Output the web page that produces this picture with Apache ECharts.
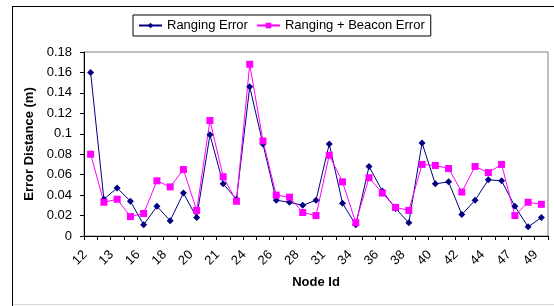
<!DOCTYPE html>
<html>
<head>
<meta charset="utf-8">
<script src="https://cdn.jsdelivr.net/npm/echarts@6/dist/echarts.min.js"></script>
<style>
html, body { margin: 0; padding: 0; background: #fff; }
#chart { width: 554px; height: 306px; }
</style>
</head>
<body>
<div id="chart"></div>
<script>
// node ids along the x axis (only every other one is labelled in the picture)
var nodeIds = ['12', '10', '13', '15', '16', '17', '18', '19', '20', '11', '21', '23',
    '24', '25', '26', '27', '28', '29', '31', '32', '34', '35', '36', '37', '38', '39',
    '40', '41', '42', '43', '44', '45', '47', '48', '49'];

var rangingError = [0.160, 0.036, 0.047, 0.034, 0.011, 0.029, 0.015, 0.042, 0.018, 0.099,
    0.051, 0.036, 0.146, 0.090, 0.035, 0.033, 0.030, 0.035, 0.090, 0.032, 0.011, 0.068,
    0.044, 0.027, 0.013, 0.091, 0.051, 0.053, 0.021, 0.035, 0.055, 0.054, 0.029, 0.009, 0.018];

var beaconError = [0.080, 0.033, 0.036, 0.019, 0.022, 0.054, 0.048, 0.065, 0.025, 0.113,
    0.058, 0.034, 0.168, 0.093, 0.040, 0.038, 0.023, 0.020, 0.079, 0.053, 0.013, 0.057,
    0.042, 0.028, 0.025, 0.070, 0.069, 0.066, 0.043, 0.068, 0.062, 0.070, 0.020, 0.033, 0.031];

var seriesNames = ['Ranging Error', 'Ranging + Beacon Error'];

var font = "'Liberation Sans', Arial, sans-serif";

var chart = echarts.init(document.getElementById('chart'), null, {renderer: 'canvas'});

var option = {
    animation: false,
    backgroundColor: '#fff',
    textStyle: {fontFamily: font},
    graphic: [
        // outer chart frame
        {type: 'line', shape: {x1: 12.5, y1: 6, x2: 12.5, y2: 306}, style: {stroke: '#000', lineWidth: 1}},
        {type: 'line', shape: {x1: 12, y1: 6.5, x2: 554, y2: 6.5}, style: {stroke: '#000', lineWidth: 1}},
        {type: 'line', shape: {x1: 13, y1: 304.5, x2: 554, y2: 304.5}, style: {stroke: '#d8d8d8', lineWidth: 1}}
    ],
    legend: {
        data: seriesNames,
        left: 133,
        top: 15,
        orient: 'horizontal',
        padding: [4, 6, 4, 5],
        itemGap: 8,
        itemWidth: 23,
        itemHeight: 7,
        borderColor: '#000',
        borderWidth: 1,
        textStyle: {fontFamily: font, fontSize: 13, color: '#000'}
    },
    grid: {
        left: 84,
        right: 6,
        top: 52,
        bottom: 70,
        show: true,
        borderColor: '#808080',
        borderWidth: 1
    },
    xAxis: {
        type: 'category',
        data: nodeIds,
        boundaryGap: true,
        name: 'Node Id',
        nameLocation: 'middle',
        nameGap: 40,
        nameTextStyle: {fontFamily: font, fontSize: 13, fontWeight: 'bold', color: '#000'},
        axisLine: {lineStyle: {color: '#000', width: 1}},
        axisTick: {show: true, interval: 0, inside: false, length: 4, lineStyle: {color: '#000'}},
        axisLabel: {
            interval: 1,
            rotate: 45,
            margin: 11,
            padding: [0, 8, 0, 0],
            fontFamily: font,
            fontSize: 13,
            color: '#000'
        },
        splitLine: {show: false}
    },
    yAxis: {
        type: 'value',
        min: 0,
        max: 0.18,
        interval: 0.02,
        name: 'Error Distance (m)',
        nameLocation: 'middle',
        nameGap: 43,
        nameTextStyle: {fontFamily: font, fontSize: 13, fontWeight: 'bold', color: '#000'},
        axisLine: {show: true, lineStyle: {color: '#000', width: 1}},
        axisTick: {show: true, inside: false, length: 4, lineStyle: {color: '#000'}},
        axisLabel: {margin: 12, fontFamily: font, fontSize: 13, color: '#000'},
        splitLine: {show: false}
    },
    series: [
        {
            name: seriesNames[0],
            type: 'line',
            data: rangingError,
            symbol: 'diamond',
            symbolSize: 7,
            lineStyle: {color: '#000080', width: 1},
            itemStyle: {color: '#000080'}
        },
        {
            name: seriesNames[1],
            type: 'line',
            data: beaconError,
            symbol: 'rect',
            symbolSize: 7,
            lineStyle: {color: '#ff00ff', width: 1},
            itemStyle: {color: '#ff00ff'}
        }
    ]
};

chart.setOption(option);
</script>
</body>
</html>
